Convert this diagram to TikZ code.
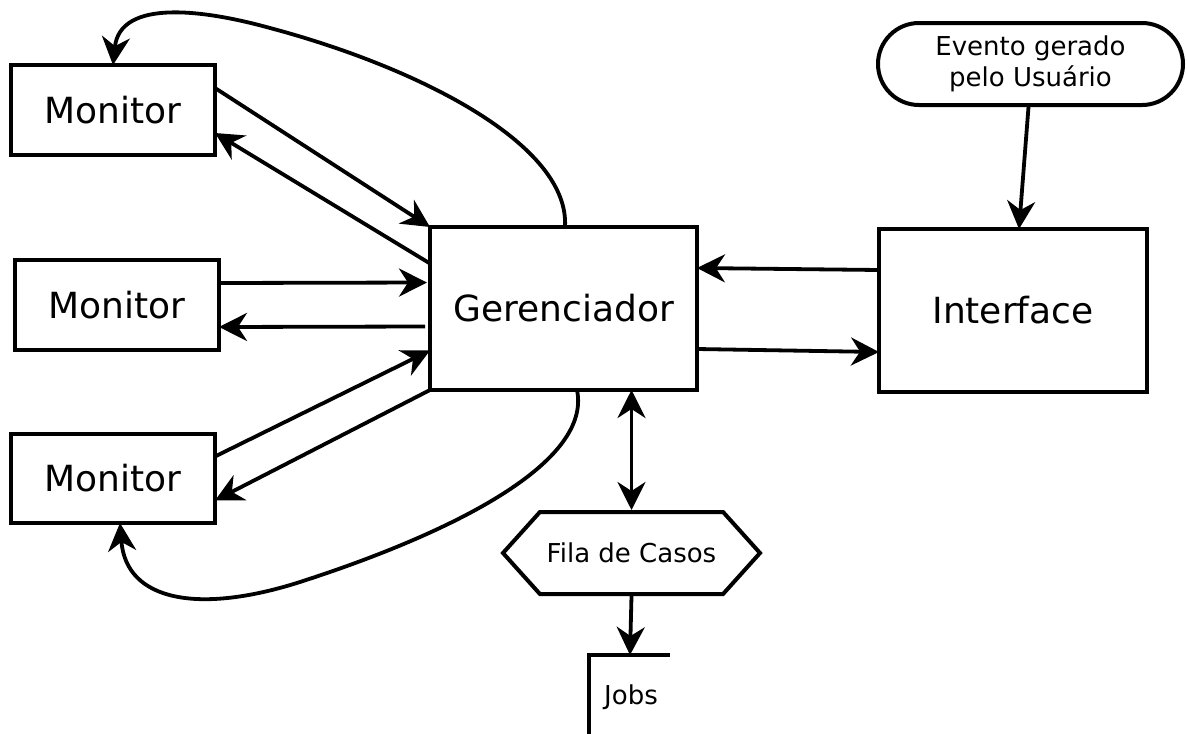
\documentclass[tikz,border=0pt]{standalone}
\usepackage{fontspec}
\setmainfont{DejaVu Sans}
\usetikzlibrary{arrows.meta,shapes.symbols}
\begin{document}
\begin{tikzpicture}[x=1pt,y=-1pt,
  box/.style={draw,line width=4pt,inner sep=0pt,outer sep=0pt,font=\fontsize{36pt}{43pt}\selectfont},
  small/.style={font=\fontsize{26pt}{31pt}\selectfont},
  conn/.style={line width=3.8pt,-{Stealth[length=28pt,width=28pt,inset=9pt]}},
  dconn/.style={line width=3.8pt,{Stealth[length=28pt,width=28pt,inset=9pt]}-{Stealth[length=28pt,width=28pt,inset=9pt]}}
]
\useasboundingbox (0,0) rectangle (1187,734);
\node[box,minimum width=204pt,minimum height=90pt] (monA) at (113,110) {Monitor};
\node[box,minimum width=204pt,minimum height=90pt] (monB) at (117,305) {Monitor};
\node[box,minimum width=204pt,minimum height=89pt] (monC) at (113,478.5) {Monitor};
\node[box,minimum width=267pt,minimum height=163pt] (ger) at (563.5,308.5) {Gerenciador};
\node[box,minimum width=268pt,minimum height=163pt] (int) at (1013,310.5) {Interface};
\node[draw,line width=4pt,small,align=center,minimum width=305pt,minimum height=82pt,rounded corners=41pt,inner sep=0pt] (evt) at (1030.5,64) {Evento gerado\\pelo Usuário};
\node[draw,line width=4pt,small,shape=signal,signal to=west and east,signal pointer angle=96,minimum width=257pt,minimum height=82pt,inner sep=0pt] (fila) at (631.5,553) {Fila de Casos};
\node[small,inner sep=0pt] (jobs) at (631,697) {Jobs};
\coordinate (jtop) at (630,655);
\draw[line width=3.8pt] (670,655) -- (589,655) -- (589,736);

% monitors <-> gerenciador
\draw[conn] ([yshift=22pt]monA.east) -- (ger.north west);
\draw[conn] ([yshift=45pt]ger.west) -- ([yshift=-23pt]monA.east);
\draw[conn] ([yshift=22pt]monB.east) -- ([xshift=-3pt,yshift=26pt]ger.west);
\draw[conn] ([xshift=-5pt,yshift=-18pt]ger.west) -- ([yshift=-22pt]monB.east);
\draw[conn] ([yshift=22pt]monC.east) -- ([yshift=-42pt]ger.west);
\draw[conn] (ger.south west) -- ([yshift=-22pt]monC.east);

% loops
\draw[conn] ([xshift=1.5pt]ger.north) .. controls (570,145) and (420,68) .. (270,28)
   .. controls (205,10) and (120,-2) .. (monA.north);
\draw[conn] ([xshift=13.5pt]ger.south) .. controls (592,462) and (455,532) .. (300,582)
   .. controls (200,614) and (126,602) .. ([xshift=7pt]monC.south);

% interface
\draw[conn] ([yshift=40.5pt]int.west) -- ([yshift=40.5pt]ger.east);
\draw[conn] ([yshift=-40.5pt]ger.east) -- ([yshift=-41.5pt]int.west);
\draw[conn] ([xshift=-2pt]evt.south) -- ([xshift=6pt]int.north);

% fila
\draw[dconn] (fila.north |- ger.south) -- (fila.north);
\draw[conn] (fila.south) -- (jtop);
\end{tikzpicture}
\end{document}
